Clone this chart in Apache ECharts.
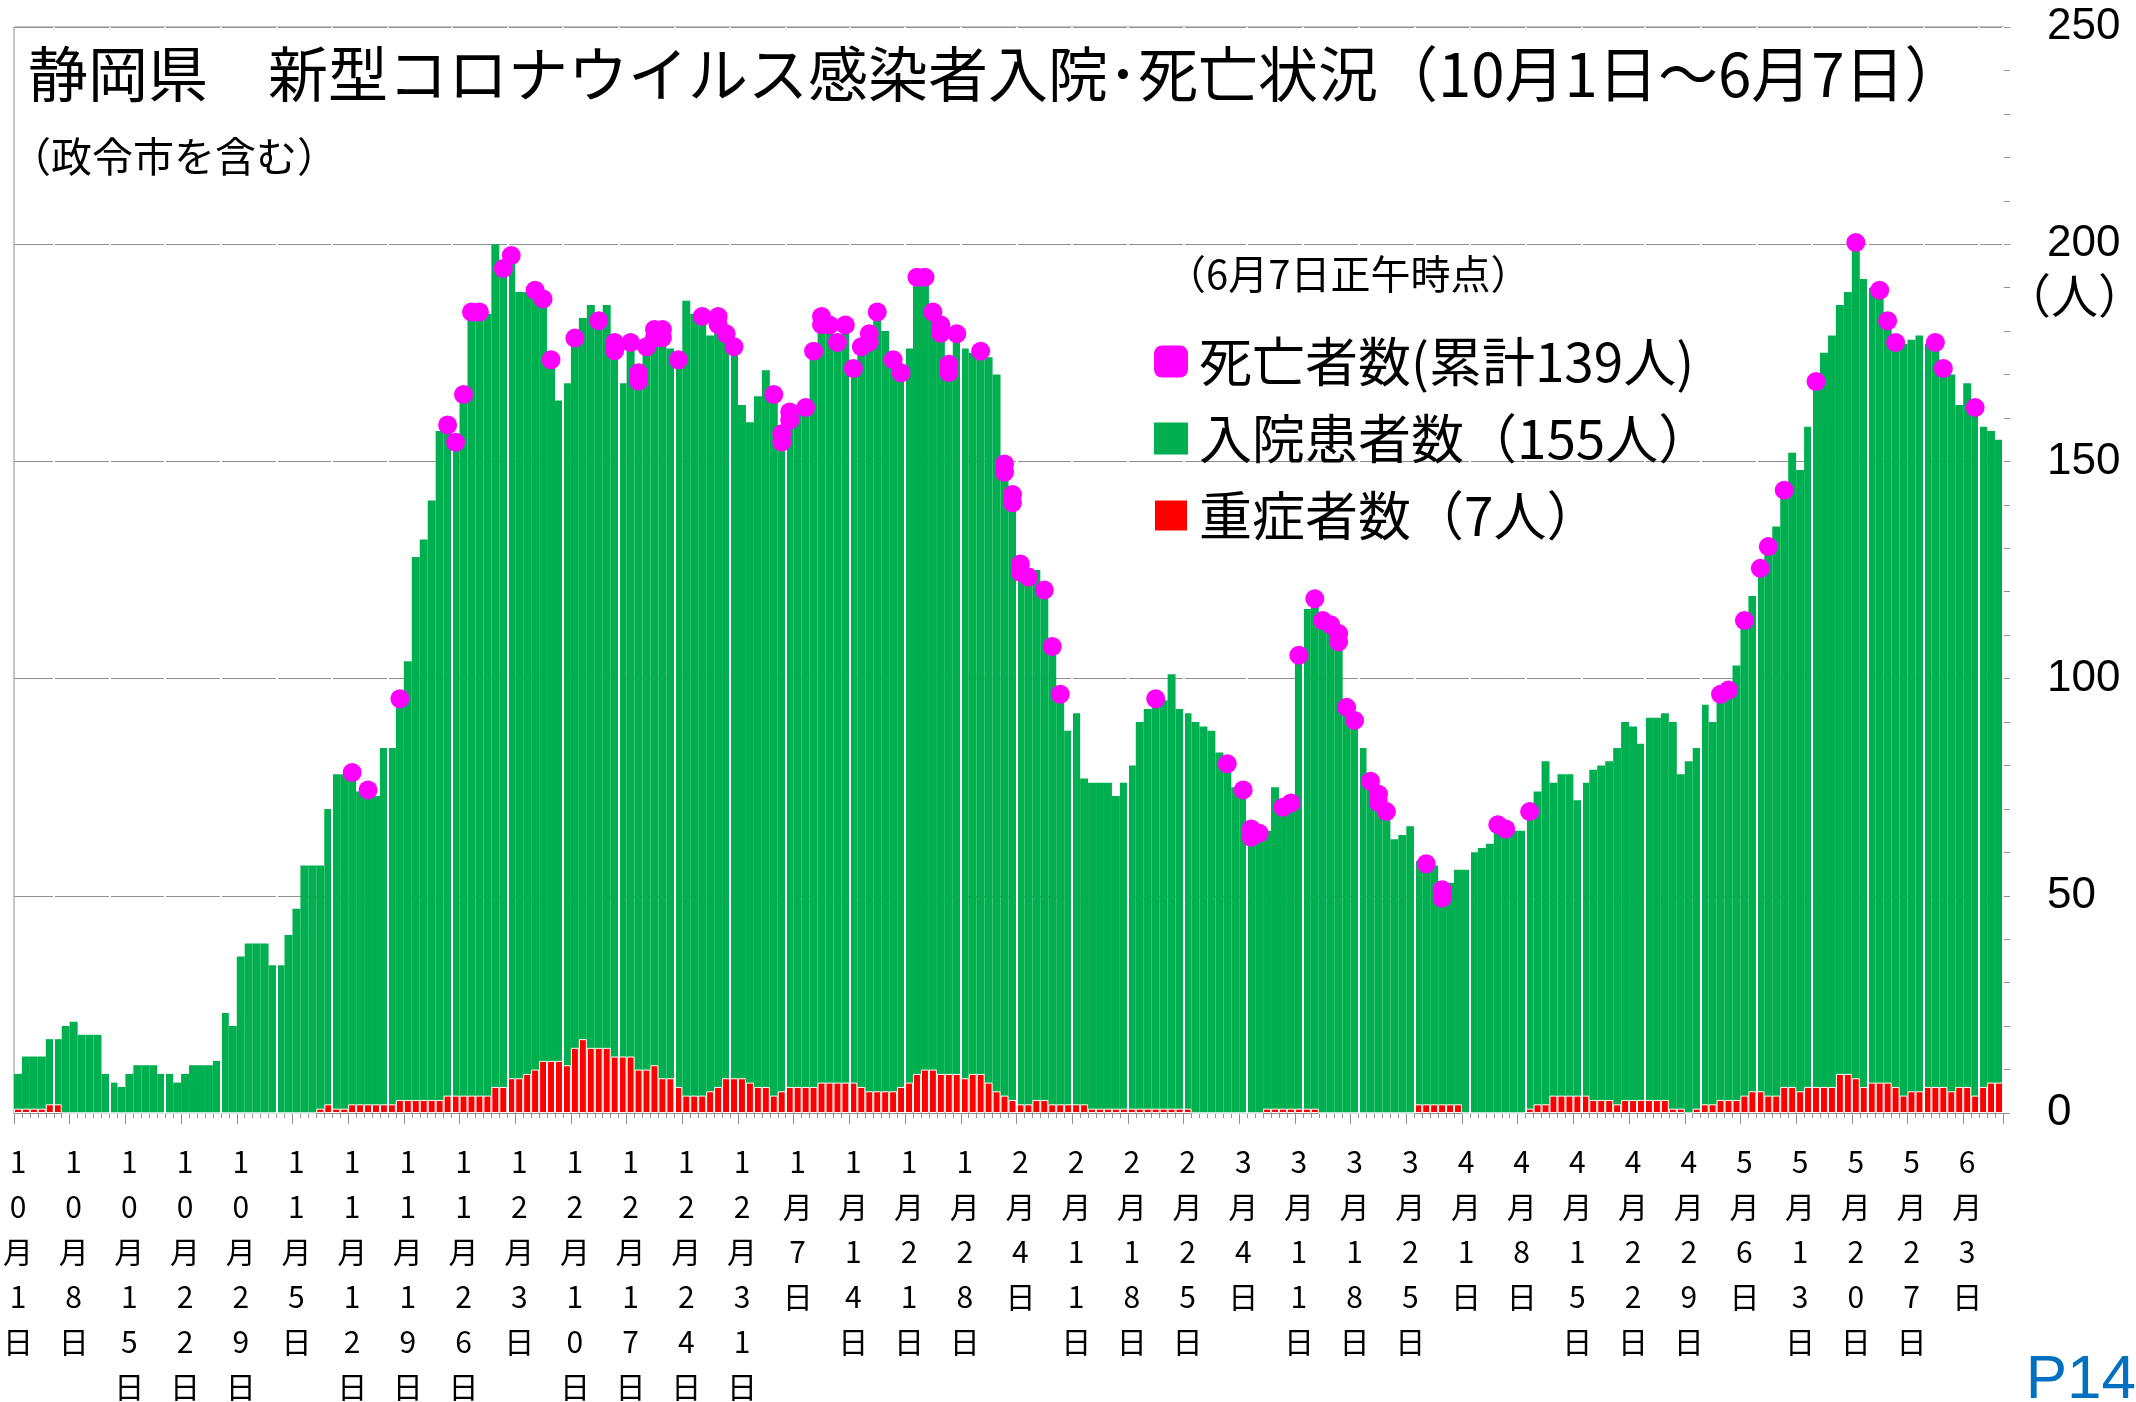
<!DOCTYPE html>
<html><head><meta charset="utf-8">
<script src="https://cdn.jsdelivr.net/npm/echarts/dist/echarts.min.js"></script>
<style>html,body{margin:0;padding:0;background:#fff}#c{width:2136px;height:1402px}</style>
</head><body><div id="c"></div>
<script>
// ---- data ----
const monthLengths = [[10,31],[11,30],[12,31],[1,31],[2,28],[3,31],[4,30],[5,31],[6,7]];
const dates = [];
monthLengths.forEach(([m, n]) => { for (let d = 1; d <= n; d++) dates.push(m + '月' + d + '日'); });

// 入院患者数 (daily, Oct 1 .. Jun 7)
const hospitalized = [
  9,13,13,13,17,17,20,21,18,18,
  18,9,7,6,9,11,11,11,9,9,
  7,9,11,11,11,12,23,20,36,39,
  39,39,34,34,41,47,57,57,57,70,
  78,78,77,74,73,73,84,84,94,104,
  128,132,141,157,157,153,164,183,183,184,
  200,193,196,189,189,188,186,172,164,168,
  177,183,186,181,186,176,168,176,169,175,
  179,179,176,172,187,184,182,179,182,178,
  175,163,159,165,171,164,155,160,163,161,
  174,182,180,176,180,170,175,178,183,180,
  172,169,176,191,191,183,180,171,178,176,
  175,174,174,170,148,141,125,122,125,119,
  106,95,88,92,77,76,76,76,73,76,
  80,90,93,94,95,101,93,92,90,89,
  88,83,79,75,73,64,63,65,75,69,
  70,104,116,117,112,111,109,92,89,84,
  75,72,68,63,64,66,58,56,57,50,
  53,56,56,60,61,62,65,64,65,65,
  68,74,81,76,78,78,72,76,79,80,
  81,84,90,89,85,91,91,92,90,78,
  81,84,94,90,95,96,103,112,119,124,
  129,135,142,152,148,158,167,175,179,186,
  189,199,192,190,188,181,176,177,178,179,
  177,176,170,170,163,168,161,158,157,155
];

// 重症者数 (daily)
const severe = [
  1,1,1,1,2,2,0,0,0,0,
  0,0,0,0,0,0,0,0,0,0,
  0,0,0,0,0,0,0,0,0,0,
  0,0,0,0,0,0,0,0,1,2,
  1,1,2,2,2,2,2,2,3,3,
  3,3,3,3,4,4,4,4,4,4,
  6,6,8,8,9,10,12,12,12,11,
  15,17,15,15,15,13,13,13,10,10,
  11,8,8,6,4,4,4,5,6,8,
  8,8,7,6,6,4,5,6,6,6,
  6,7,7,7,7,7,6,5,5,5,
  5,6,7,9,10,10,9,9,9,8,
  9,9,7,5,4,3,2,2,3,3,
  2,2,2,2,2,1,1,1,1,1,
  1,1,1,1,1,1,1,1,0,0,
  0,0,0,0,0,0,0,1,1,1,
  1,1,1,1,0,0,0,0,0,0,
  0,0,0,0,0,0,2,2,2,2,
  2,2,0,0,0,0,0,0,0,0,
  1,2,2,4,4,4,4,4,3,3,
  3,2,3,3,3,3,3,3,1,1,
  0,1,2,2,3,3,3,4,5,5,
  4,4,6,6,5,6,6,6,6,9,
  9,8,6,7,7,7,6,4,5,5,
  6,6,6,5,6,6,4,6,7,7
];

// 死亡者数 (deaths reported per day)
const deaths = [
  0,0,0,0,0,0,0,0,0,0,
  0,0,0,0,0,0,0,0,0,0,
  0,0,0,0,0,0,0,0,0,0,
  0,0,0,0,0,0,0,0,0,0,
  0,0,1,0,1,0,0,0,1,0,
  0,0,0,0,1,1,1,1,1,0,
  0,1,1,0,0,1,1,1,0,0,
  1,0,0,1,0,2,0,1,2,1,
  2,2,0,1,0,0,1,0,2,1,
  1,0,0,0,0,1,2,2,0,1,
  1,2,1,1,1,1,1,2,1,0,
  1,1,0,1,1,1,2,2,1,0,
  0,1,0,0,2,2,2,1,0,1,
  1,1,0,0,0,0,0,0,0,0,
  0,0,0,1,0,0,0,0,0,0,
  0,0,1,0,1,2,1,0,0,1,
  1,1,0,1,1,1,2,1,1,0,
  1,2,1,0,0,0,0,1,0,2,
  0,0,0,0,0,0,1,1,0,0,
  1,0,0,0,0,0,0,0,0,0,
  0,0,0,0,0,0,0,0,0,0,
  0,0,0,0,1,1,0,1,0,1,
  1,0,1,0,0,0,1,0,0,0,
  0,1,0,0,1,1,1,0,0,0,
  0,1,1,0,0,0,1,0,0,0
];

const yTicks = [0, 50, 100, 150, 200, 250];
const weekBoundaries = [5,12,19,26,33,40,47,55,62,69,76,83,90,97,105,112,119,126,133,140,147,155,162,169,176,183,190,197,205,212,219,226,233,240,247];

const nameDeath = '死亡者数(累計139人)';
const nameHosp = '入院患者数（155人）';
const nameSev = '重症者数（7人）';

// ---- build ----
const deathPoints = [];
deaths.forEach((c, i) => {
  for (let k = 0; k < c; k++) deathPoints.push([i, hospitalized[i] - k * 1.9]);
});
const wbSet = new Set(weekBoundaries);
const CJK = '"Noto Sans CJK JP", "Noto Sans CJK SC", sans-serif';
const GRAY = '#8f8f8f';

const chart = echarts.init(document.getElementById('c'), null, {renderer: 'canvas'});
chart.setOption({
  animation: false,
  backgroundColor: '#ffffff',
  title: [
    {text: '静岡県　新型コロナウイルス感染者入院･死亡状況（10月1日～6月7日）', left: 28, top: 44, padding: 0,
     textStyle: {fontSize: 60, fontWeight: 'normal', fontFamily: CJK, color: '#000'}},
    {text: '（政令市を含む）', left: 10, top: 136, padding: 0,
     textStyle: {fontSize: 41, fontWeight: 'normal', fontFamily: CJK, color: '#000'}},
    {text: '（6月7日正午時点）', left: 1166, top: 254, padding: 0,
     textStyle: {fontSize: 40, fontWeight: 'normal', fontFamily: CJK, color: '#000'}},
    {text: '（人）', left: 2004, top: 272, padding: 0,
     textStyle: {fontSize: 47, fontWeight: 'normal', fontFamily: CJK, color: '#000'}},
    {text: 'P14', right: 0, bottom: -10, padding: 0,
     textStyle: {fontSize: 62, fontWeight: 'normal', fontFamily: '"Liberation Sans", Arial, sans-serif', color: '#0070C0'}}
  ],
  legend: {
    orient: 'vertical', left: 1148, top: 330, itemWidth: 34, itemHeight: 32, itemGap: 24,
    selectedMode: false,
    textStyle: {fontSize: 53, lineHeight: 53, fontFamily: CJK, color: '#000', padding: [0, 0, 0, 6]},
    data: [{name: nameDeath, icon: 'roundRect'}, {name: nameHosp, icon: 'rect'}, {name: nameSev, icon: 'rect'}]
  },
  grid: {left: 14, right: 133, top: 27, bottom: 289, containLabel: false, outerBoundsMode: 'none',
         show: true, borderColor: GRAY, borderWidth: 1, backgroundColor: 'transparent'},
  xAxis: [
    {type: 'category', data: dates, position: 'bottom', offset: 0, boundaryGap: true,
     axisLine: {show: true, lineStyle: {color: GRAY, width: 1}},
     axisTick: {show: true, interval: 0, length: 5, lineStyle: {color: GRAY}},
     axisLabel: {show: false}, splitLine: {show: false}},
    {type: 'category', data: dates, position: 'bottom', offset: 0, boundaryGap: true,
     axisLine: {show: false},
     axisTick: {show: true, interval: (i) => i % 7 === 0, length: 11, lineStyle: {color: GRAY}},
     axisLabel: {show: true, interval: (i) => i % 7 === 0, margin: 26, fontSize: 30, lineHeight: 45,
                 fontFamily: CJK, color: '#000', verticalAlign: 'top',
                 formatter: (v) => v.split('').join('\n')},
     splitLine: {show: false}},
    {type: 'category', data: dates, position: 'bottom', offset: 0, boundaryGap: true, z: 4,
     axisLine: {show: false}, axisTick: {show: false}, axisLabel: {show: false},
     splitLine: {show: true, interval: (i) => wbSet.has(i), lineStyle: {color: '#ffffff', width: 2}}}
  ],
  yAxis: {
    type: 'value', position: 'right', min: 0, max: 250, interval: 50,
    axisLine: {show: true, lineStyle: {color: GRAY}},
    axisTick: {show: true, inside: false, length: 7, lineStyle: {color: GRAY}},
    minorTick: {show: true, splitNumber: 5, length: 7, lineStyle: {color: GRAY}},
    splitLine: {show: true, lineStyle: {color: GRAY, width: 1}},
    axisLabel: {show: true, margin: 44, fontSize: 44, color: '#000', align: 'left',
                fontFamily: '"Liberation Sans", Arial, sans-serif',
                formatter: (v) => yTicks.includes(v) ? String(v) : ''}
  },
  series: [
    {name: nameHosp, type: 'bar', xAxisIndex: 0, data: hospitalized, barCategoryGap: '0%', barGap: '-100%',
     itemStyle: {color: '#00B050'}, z: 2},
    {name: nameSev, type: 'bar', xAxisIndex: 0, data: severe, barCategoryGap: '0%', barGap: '-100%',
     itemStyle: {color: '#FF0000', borderColor: '#ffffff', borderWidth: 1}, z: 3},
    {name: nameDeath, type: 'scatter', xAxisIndex: 0, data: deathPoints, symbol: 'circle', symbolSize: 19,
     symbolOffset: [0, -6], itemStyle: {color: '#FF00FF', opacity: 1}, z: 6}
  ]
});
</script></body></html>
